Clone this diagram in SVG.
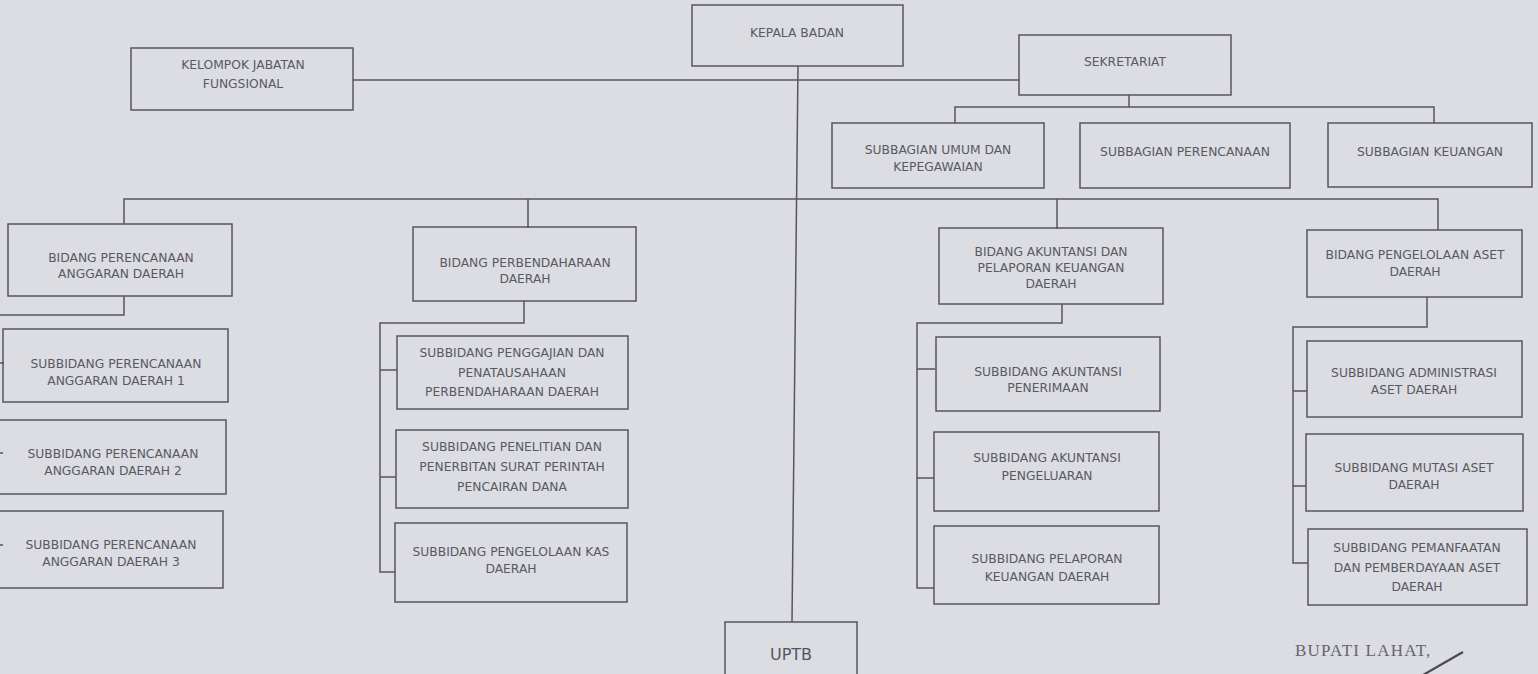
<svg xmlns="http://www.w3.org/2000/svg" width="1538" height="674" viewBox="0 0 1538 674">
<style>
.bx{fill:none;stroke:#58555e;stroke-width:1.5}
.ln{fill:none;stroke:#58555e;stroke-width:1.5}
.t{font-family:"DejaVu Sans","Verdana",sans-serif;font-size:12.3px;fill:#5a5962;text-anchor:middle}
.u{font-family:"DejaVu Sans","Verdana",sans-serif;font-size:16px;fill:#55545c;text-anchor:middle}
.s{font-family:"Liberation Serif","Times New Roman",serif;font-size:17px;letter-spacing:1.2px;fill:#66656c}
</style>
<rect x="0" y="0" width="1538" height="674" fill="#dcdde3"/>

<g id="connectors">
<path class="ln" d="M798,66 L792,622"/>
<path class="ln" d="M353,80 H1019"/>
<path class="ln" d="M1129,95 V107 M955,123 V107 H1434 V123"/>
<path class="ln" d="M124,224 V199 H1438 V230 M528,199 V228 M1057,199 V229"/>
<path class="ln" d="M124,296 V315 H-5 M0,363 H4 M0,453 H3 M0,545 H3"/>
<path class="ln" d="M524,301 V323 H380 V572 H395 M380,370 H397 M380,477 H396"/>
<path class="ln" d="M1062,304 V323 H917 V588 H934 M917,369 H935 M917,478 H934"/>
<path class="ln" d="M1427,297 V327 H1293 V563 H1308 M1293,391 H1307 M1293,486 H1306"/>
</g>

<g id="kepala"><rect class="bx" x="692" y="5" width="211" height="61"/><text class="t" x="797" y="37">KEPALA BADAN</text></g>
<g id="kelompok"><rect class="bx" x="131" y="48" width="222" height="62"/><text class="t" x="243" y="69">KELOMPOK JABATAN</text><text class="t" x="243" y="88">FUNGSIONAL</text></g>
<g id="sekretariat"><rect class="bx" x="1019" y="35" width="212" height="60"/><text class="t" x="1125" y="66">SEKRETARIAT</text></g>

<g id="sub-umum"><rect class="bx" x="832" y="123" width="212" height="65"/><text class="t" x="938" y="154">SUBBAGIAN UMUM DAN</text><text class="t" x="938" y="171">KEPEGAWAIAN</text></g>
<g id="sub-perencanaan"><rect class="bx" x="1080" y="123" width="210" height="65"/><text class="t" x="1185" y="156">SUBBAGIAN PERENCANAAN</text></g>
<g id="sub-keuangan"><rect class="bx" x="1328" y="123" width="204" height="64"/><text class="t" x="1430" y="156">SUBBAGIAN KEUANGAN</text></g>

<g id="bidang-perencanaan"><rect class="bx" x="8" y="224" width="224" height="72"/><text class="t" x="121" y="262">BIDANG PERENCANAAN</text><text class="t" x="121" y="278">ANGGARAN DAERAH</text></g>
<g id="sbp1"><rect class="bx" x="3" y="329" width="225" height="73"/><text class="t" x="116" y="368">SUBBIDANG PERENCANAAN</text><text class="t" x="116" y="385">ANGGARAN DAERAH 1</text></g>
<g id="sbp2"><rect class="bx" x="-1" y="420" width="227" height="74"/><text class="t" x="113" y="458">SUBBIDANG PERENCANAAN</text><text class="t" x="113" y="475">ANGGARAN DAERAH 2</text></g>
<g id="sbp3"><rect class="bx" x="-1" y="511" width="224" height="77"/><text class="t" x="111" y="549">SUBBIDANG PERENCANAAN</text><text class="t" x="111" y="566">ANGGARAN DAERAH 3</text></g>

<g id="bidang-perbendaharaan"><rect class="bx" x="413" y="227" width="223" height="74"/><text class="t" x="525" y="267">BIDANG PERBENDAHARAAN</text><text class="t" x="525" y="283">DAERAH</text></g>
<g id="sbb1"><rect class="bx" x="397" y="336" width="231" height="73"/><text class="t" x="512" y="357">SUBBIDANG PENGGAJIAN DAN</text><text class="t" x="512" y="377">PENATAUSAHAAN</text><text class="t" x="512" y="396">PERBENDAHARAAN DAERAH</text></g>
<g id="sbb2"><rect class="bx" x="396" y="430" width="232" height="78"/><text class="t" x="512" y="451">SUBBIDANG PENELITIAN DAN</text><text class="t" x="512" y="471">PENERBITAN SURAT PERINTAH</text><text class="t" x="512" y="491">PENCAIRAN DANA</text></g>
<g id="sbb3"><rect class="bx" x="395" y="523" width="232" height="79"/><text class="t" x="511" y="556">SUBBIDANG PENGELOLAAN KAS</text><text class="t" x="511" y="573">DAERAH</text></g>

<g id="bidang-akuntansi"><rect class="bx" x="939" y="228" width="224" height="76"/><text class="t" x="1051" y="256">BIDANG AKUNTANSI DAN</text><text class="t" x="1051" y="272">PELAPORAN KEUANGAN</text><text class="t" x="1051" y="288">DAERAH</text></g>
<g id="sba1"><rect class="bx" x="936" y="337" width="224" height="74"/><text class="t" x="1048" y="376">SUBBIDANG AKUNTANSI</text><text class="t" x="1048" y="392">PENERIMAAN</text></g>
<g id="sba2"><rect class="bx" x="934" y="432" width="225" height="79"/><text class="t" x="1047" y="462">SUBBIDANG AKUNTANSI</text><text class="t" x="1047" y="480">PENGELUARAN</text></g>
<g id="sba3"><rect class="bx" x="934" y="526" width="225" height="78"/><text class="t" x="1047" y="563">SUBBIDANG PELAPORAN</text><text class="t" x="1047" y="581">KEUANGAN DAERAH</text></g>

<g id="bidang-aset"><rect class="bx" x="1307" y="230" width="215" height="67"/><text class="t" x="1415" y="259">BIDANG PENGELOLAAN ASET</text><text class="t" x="1415" y="276">DAERAH</text></g>
<g id="sbs1"><rect class="bx" x="1307" y="341" width="215" height="76"/><text class="t" x="1414" y="377">SUBBIDANG ADMINISTRASI</text><text class="t" x="1414" y="394">ASET  DAERAH</text></g>
<g id="sbs2"><rect class="bx" x="1306" y="434" width="217" height="77"/><text class="t" x="1414" y="472">SUBBIDANG MUTASI ASET</text><text class="t" x="1414" y="489">DAERAH</text></g>
<g id="sbs3"><rect class="bx" x="1308" y="529" width="219" height="76"/><text class="t" x="1417" y="552">SUBBIDANG PEMANFAATAN</text><text class="t" x="1417" y="572">DAN PEMBERDAYAAN ASET</text><text class="t" x="1417" y="591">DAERAH</text></g>

<g id="uptb"><rect class="bx" x="725" y="622" width="132" height="60"/><text class="u" x="791" y="660">UPTB</text></g>

<text class="s" x="1295" y="656">BUPATI LAHAT,</text>
<path d="M1423,675 L1463,652" fill="none" stroke="#4a4850" stroke-width="2.2"/>
</svg>
